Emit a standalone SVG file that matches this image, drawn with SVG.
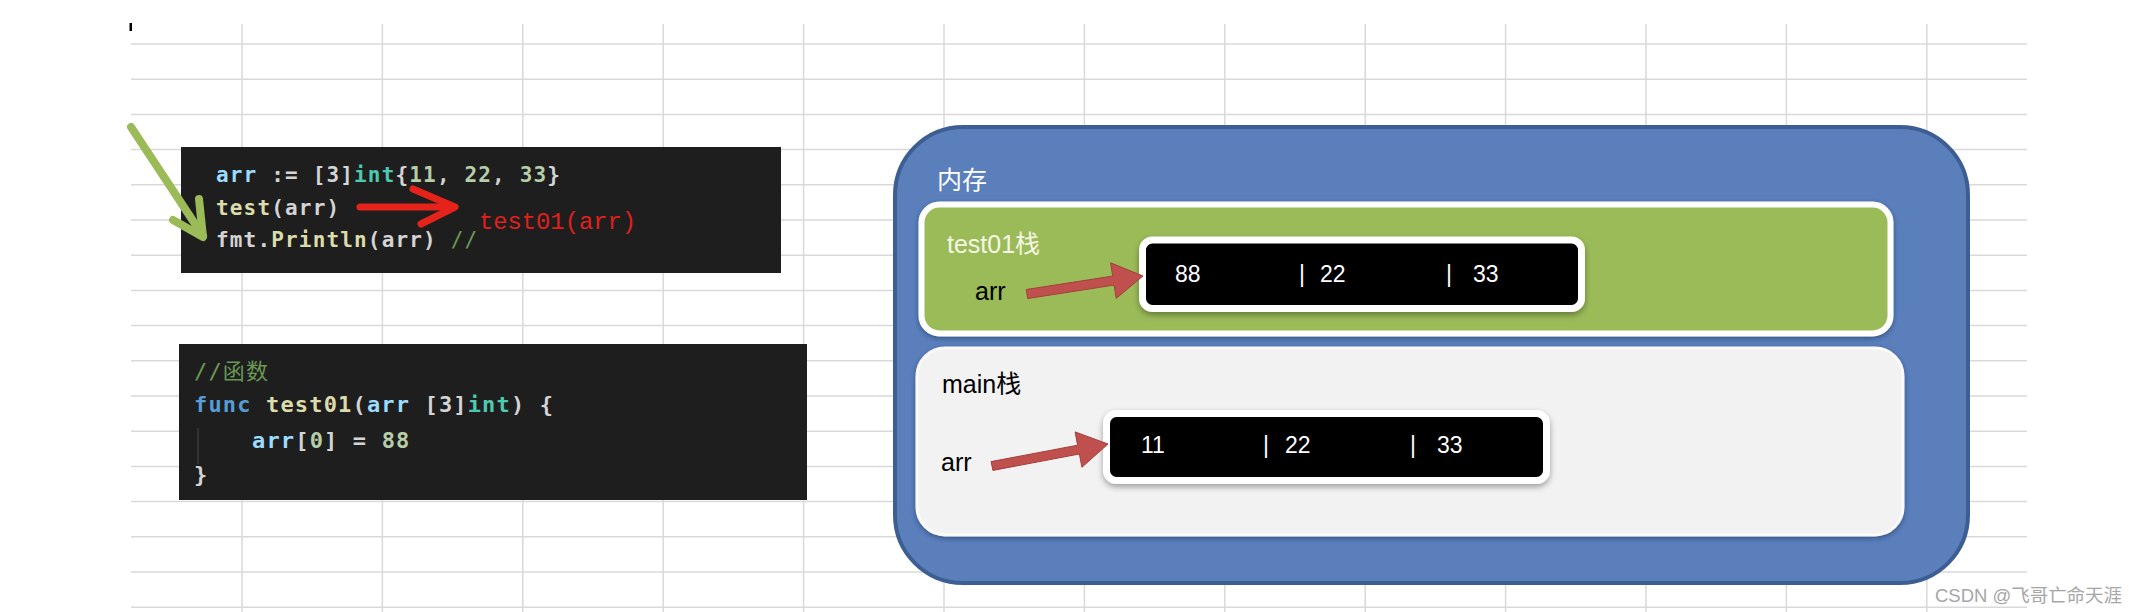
<svg xmlns="http://www.w3.org/2000/svg" width="2140" height="612" viewBox="0 0 2140 612">
<style>
.g{stroke:#d9d9d9;stroke-width:1.5}
.code1{font-family:"DejaVu Sans Mono","Liberation Mono",monospace;font-weight:bold;font-size:21px;letter-spacing:1.16px;fill:#d4d4d4}
.code2{font-family:"DejaVu Sans Mono","Liberation Mono","Noto Sans CJK SC",monospace;font-weight:bold;font-size:22px;letter-spacing:1.16px;fill:#d4d4d4}
.v{fill:#9cdcfe}.t{fill:#4ec9b0}.n{fill:#b5cea8}.f{fill:#dcdcaa}.k{fill:#569cd6}.c{fill:#6a9955;font-weight:normal}
.lbl{font-family:"Liberation Sans","Noto Sans CJK SC",sans-serif;font-size:25px}
.num{font-family:"Liberation Sans",sans-serif;font-size:23px;fill:#fff}
.box{fill:#000;stroke:#fff;stroke-width:7}
.rarrow{fill:#c0504d;stroke:#a33f3c;stroke-width:1;stroke-linejoin:round}
</style>
<defs>
<filter id="sh" x="-10%" y="-20%" width="120%" height="150%">
<feDropShadow dx="0" dy="3" stdDeviation="3" flood-color="#000" flood-opacity="0.35"/>
</filter>
<filter id="sh2" x="-5%" y="-10%" width="110%" height="125%">
<feDropShadow dx="0" dy="2" stdDeviation="2.5" flood-color="#1f3760" flood-opacity="0.6"/>
</filter>
</defs>
<rect width="2140" height="612" fill="#fff"/>
<g id="grid">
<line class="g" x1="131" y1="44" x2="2027" y2="44"/>
<line class="g" x1="131" y1="79.2" x2="2027" y2="79.2"/>
<line class="g" x1="131" y1="114.4" x2="2027" y2="114.4"/>
<line class="g" x1="131" y1="149.6" x2="2027" y2="149.6"/>
<line class="g" x1="131" y1="184.8" x2="2027" y2="184.8"/>
<line class="g" x1="131" y1="220" x2="2027" y2="220"/>
<line class="g" x1="131" y1="255.2" x2="2027" y2="255.2"/>
<line class="g" x1="131" y1="290.4" x2="2027" y2="290.4"/>
<line class="g" x1="131" y1="325.6" x2="2027" y2="325.6"/>
<line class="g" x1="131" y1="360.8" x2="2027" y2="360.8"/>
<line class="g" x1="131" y1="396" x2="2027" y2="396"/>
<line class="g" x1="131" y1="431.2" x2="2027" y2="431.2"/>
<line class="g" x1="131" y1="466.4" x2="2027" y2="466.4"/>
<line class="g" x1="131" y1="501.6" x2="2027" y2="501.6"/>
<line class="g" x1="131" y1="536.8" x2="2027" y2="536.8"/>
<line class="g" x1="131" y1="572" x2="2027" y2="572"/>
<line class="g" x1="131" y1="607.2" x2="2027" y2="607.2"/>
<line class="g" x1="242" y1="24" x2="242" y2="612"/>
<line class="g" x1="382.4" y1="24" x2="382.4" y2="612"/>
<line class="g" x1="522.8" y1="24" x2="522.8" y2="612"/>
<line class="g" x1="663.2" y1="24" x2="663.2" y2="612"/>
<line class="g" x1="803.6" y1="24" x2="803.6" y2="612"/>
<line class="g" x1="944" y1="24" x2="944" y2="612"/>
<line class="g" x1="1084.4" y1="24" x2="1084.4" y2="612"/>
<line class="g" x1="1224.8" y1="24" x2="1224.8" y2="612"/>
<line class="g" x1="1365.2" y1="24" x2="1365.2" y2="612"/>
<line class="g" x1="1505.6" y1="24" x2="1505.6" y2="612"/>
<line class="g" x1="1646" y1="24" x2="1646" y2="612"/>
<line class="g" x1="1786.4" y1="24" x2="1786.4" y2="612"/>
<line class="g" x1="1926.8" y1="24" x2="1926.8" y2="612"/>
<rect x="129.5" y="23" width="2.5" height="8" fill="#000"/>
</g>
<g id="code1">
<rect x="181" y="147" width="600" height="126" fill="#1e1e1e"/>
<text class="code1" x="216" y="182"><tspan class="v">arr</tspan> := [3]<tspan class="t">int</tspan>{<tspan class="n">11</tspan>, <tspan class="n">22</tspan>, <tspan class="n">33</tspan>}</text>
<text class="code1" x="216" y="214.5"><tspan class="f">test</tspan>(arr)</text>
<text class="code1" x="216" y="247"><tspan>fmt.</tspan><tspan class="f">Println</tspan>(arr) <tspan class="c">//</tspan></text>
<text x="479" y="229" font-family="'Liberation Mono',monospace" font-size="24" fill="#e0201c" textLength="157" lengthAdjust="spacingAndGlyphs">test01(arr)</text>
</g>
<g id="code2">
<rect x="179" y="344" width="628" height="156" fill="#1e1e1e"/>
<line x1="198" y1="428" x2="198" y2="464" stroke="#3a3a3a" stroke-width="1.5"/>
<text class="code2" x="194" y="379"><tspan class="c">//函数</tspan></text>
<text class="code2" x="194" y="412"><tspan class="k">func</tspan> <tspan class="f">test01</tspan>(<tspan class="v">arr</tspan> [3]<tspan class="t">int</tspan>) {</text>
<text class="code2" x="252" y="448"><tspan class="v">arr</tspan>[<tspan class="n">0</tspan>] = <tspan class="n">88</tspan></text>
<text class="code2" x="194" y="482">}</text>
</g>
<g id="memory">
<rect x="895" y="127" width="1073" height="456" rx="68" fill="#5a7fbb" stroke="#3d5e93" stroke-width="4"/>
<text class="lbl" x="937" y="189" font-size="26" fill="#fff">内存</text>
</g>
<g id="stack-test01">
<rect x="921.5" y="204.5" width="969" height="129" rx="18" fill="#9bbb59" stroke="#fff" stroke-width="6" filter="url(#sh2)"/>
<text class="lbl" x="947" y="253" fill="#f5f6e6">test01栈</text>
<text class="lbl" x="975" y="300" fill="#000">arr</text>
</g>
<g id="arr-test01">
<rect class="box" x="1142.5" y="240" width="439" height="68.5" rx="10" filter="url(#sh)"/>
<text class="num" x="1175" y="282">88</text>
<text class="num" x="1299" y="282">|</text>
<text class="num" x="1320" y="282">22</text>
<text class="num" x="1446" y="282">|</text>
<text class="num" x="1473" y="282">33</text>
</g>
<g id="stack-main">
<rect x="917" y="348" width="986" height="187" rx="28" fill="#f2f2f2" stroke="#fafafa" stroke-width="3" filter="url(#sh2)"/>
<text class="lbl" x="942" y="393" fill="#000">main栈</text>
<text class="lbl" x="941" y="471" fill="#000">arr</text>
</g>
<g id="arr-main">
<rect class="box" x="1106.5" y="413.5" width="440" height="67" rx="10" filter="url(#sh)"/>
<text class="num" x="1141" y="453">11</text>
<text class="num" x="1263" y="453">|</text>
<text class="num" x="1285" y="453">22</text>
<text class="num" x="1410" y="453">|</text>
<text class="num" x="1437" y="453">33</text>
</g>
<g id="connectors">
<path class="rarrow" d="M1026.2,289.5 L1112.7,276.1 L1110.6,262.8 L1143,276 L1116.2,298.4 L1114.1,285.1 L1027.8,298.5 Z"/>
<path class="rarrow" d="M991.1,461.6 L1077.6,445.2 L1075.1,431.9 L1108,444 L1081.9,467.3 L1079.4,454 L992.9,470.4 Z"/>
<g fill="none" stroke="#9bbb59" stroke-width="8" stroke-linecap="round" stroke-linejoin="round">
<line x1="131" y1="127" x2="203" y2="236"/>
<polyline points="173,220 203,237 199,199"/>
</g>
<g fill="none" stroke="#e5231b" stroke-width="7" stroke-linecap="round" stroke-linejoin="round">
<line x1="360" y1="207" x2="443" y2="207"/>
<polyline points="413,189 455,207 421,224"/>
</g>
</g>
<g id="watermark">
<text x="1935" y="602" font-family="'Liberation Sans','Noto Sans CJK SC',sans-serif" font-size="18" fill="#a6a6a6" textLength="187" lengthAdjust="spacingAndGlyphs">CSDN @飞哥亡命天涯</text>
</g>
</svg>
